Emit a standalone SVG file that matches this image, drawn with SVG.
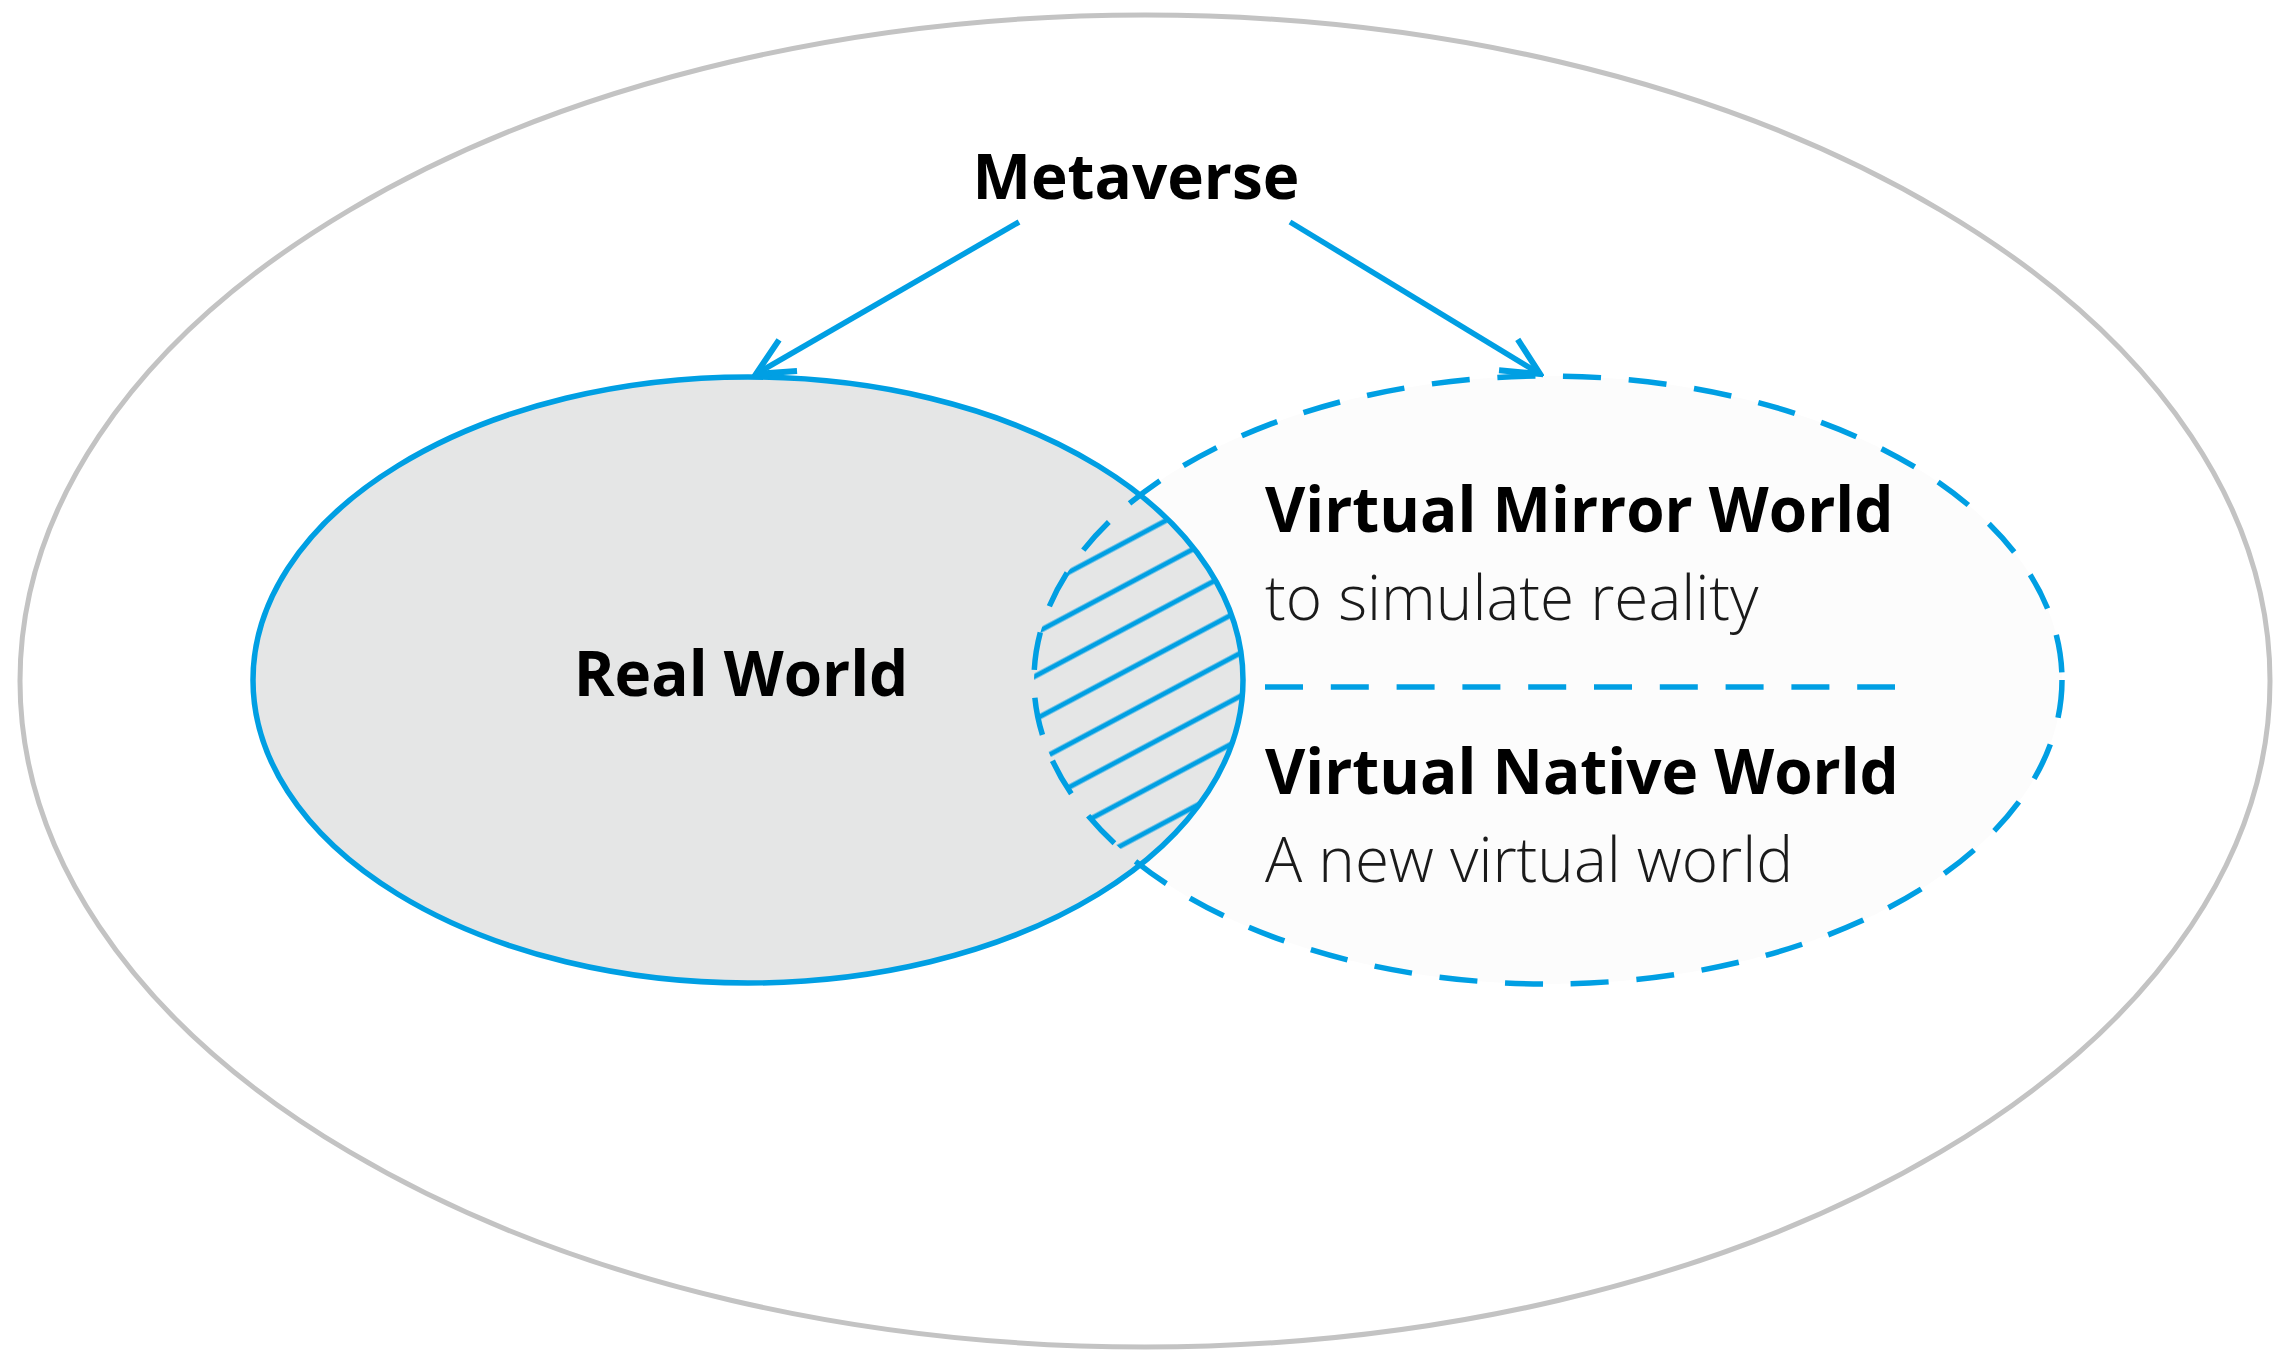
<svg xmlns="http://www.w3.org/2000/svg" width="2293" height="1356" viewBox="0 0 2293 1356">
  <style>
    .head { font-family: "Open Sans", "Liberation Sans", sans-serif; font-weight: 700; font-size: 62px; fill: #000; }
    .sub { font-family: "Open Sans", "Liberation Sans", sans-serif; font-weight: 300; font-size: 62px; fill: #1a1a1a; }
    .blue { stroke: #009fe3; stroke-width: 5.5; fill: none; }
    .dash { stroke-dasharray: 38 27.8; }
  </style>
  <defs>
    <marker id="chev" viewBox="0 0 46 46" refX="42" refY="23" markerWidth="46" markerHeight="46" markerUnits="userSpaceOnUse" orient="auto">
      <path d="M5,5 L42,23 L5,41" fill="none" stroke="#009fe3" stroke-width="6"/>
    </marker>
    <clipPath id="realClip">
      <ellipse cx="748" cy="680" rx="495" ry="303"/>
    </clipPath>
    <pattern id="hatch" width="38" height="38" patternUnits="userSpaceOnUse" patternTransform="rotate(-28)">
      <line x1="0" y1="19" x2="38" y2="19" stroke="#009fe3" stroke-width="5"/>
    </pattern>
  </defs>
  <rect width="2293" height="1356" fill="#ffffff"/>

  <g id="metaverse">
    <ellipse cx="1145" cy="681" rx="1125" ry="666" fill="none" stroke="#c3c3c3" stroke-width="5"/>
    <text class="head" x="1136" y="199" text-anchor="middle">Metaverse</text>
  </g>

  <g id="virtual-world-fill">
    <ellipse cx="1548" cy="680" rx="514" ry="304" fill="#fcfcfc"/>
  </g>

  <g id="real-world">
    <ellipse cx="748" cy="680" rx="495" ry="303" fill="#e5e6e6"/>
    <ellipse cx="1548" cy="680" rx="514" ry="304" fill="url(#hatch)" clip-path="url(#realClip)"/>
    <ellipse class="blue" cx="748" cy="680" rx="495" ry="303"/>
    <text class="head" x="741" y="696" text-anchor="middle">Real World</text>
  </g>

  <g id="virtual-world">
    <ellipse class="blue dash" cx="1548" cy="680" rx="514" ry="304"/>
    <line class="blue dash" x1="1265" y1="687" x2="1895" y2="687"/>
    <g id="virtual-mirror-world">
      <text class="head" x="1265" y="532">Virtual Mirror World</text>
      <text class="sub" x="1265" y="620">to simulate reality</text>
    </g>
    <g id="virtual-native-world">
      <text class="head" x="1265" y="794">Virtual Native World</text>
      <text class="sub" x="1265" y="882">A new virtual world</text>
    </g>
  </g>

  <g id="connectors">
    <line class="blue" x1="1019" y1="222" x2="756" y2="374" stroke-width="6" marker-end="url(#chev)"/>
    <line class="blue" x1="1290" y1="222" x2="1540" y2="374" stroke-width="6" marker-end="url(#chev)"/>
  </g>
</svg>
